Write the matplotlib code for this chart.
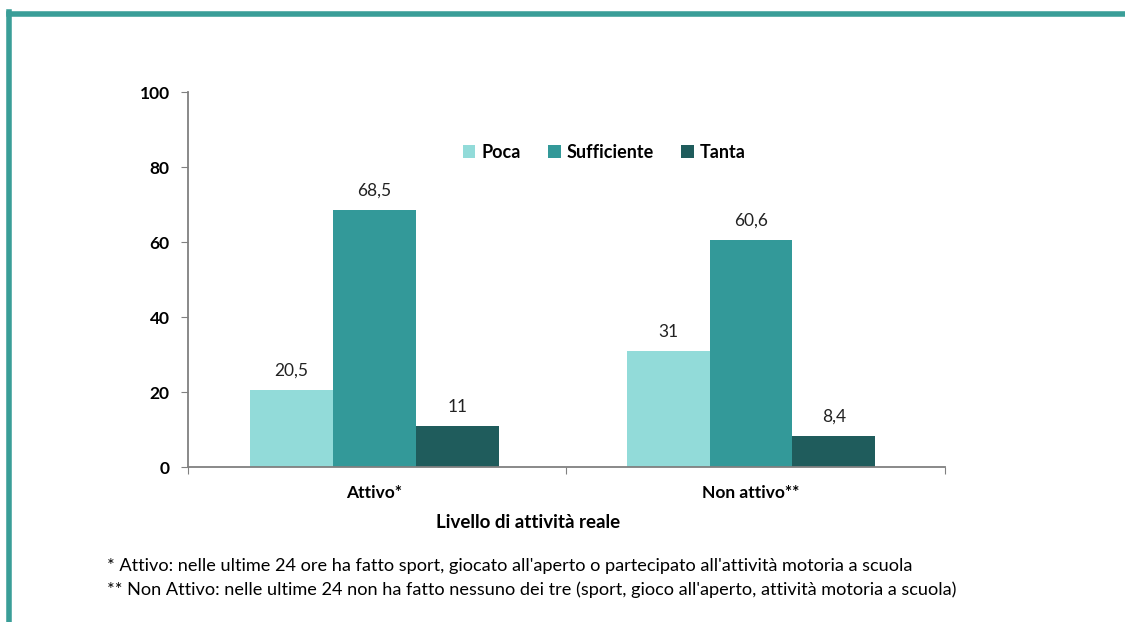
import numpy as np
import matplotlib.pyplot as plt

plt.rcParams['font.family'] = ['Lato', 'DejaVu Sans']

categorie = ['Attivo*', 'Non attivo**']
serie = ['Poca', 'Sufficiente', 'Tanta']
valori = {
    'Poca': [20.5, 31],
    'Sufficiente': [68.5, 60.6],
    'Tanta': [11, 8.4],
}
etichette = {
    'Poca': ['20,5', '31'],
    'Sufficiente': ['68,5', '60,6'],
    'Tanta': ['11', '8,4'],
}
colori = ['#92dbd9', '#339999', '#1f5c5c']
note = [
    "* Attivo: nelle ultime 24 ore ha fatto sport, giocato all'aperto o partecipato all'attività motoria a scuola",
    "** Non Attivo: nelle ultime 24 non ha fatto nessuno dei tre (sport, gioco all'aperto, attività motoria a scuola)",
]

fig = plt.figure(figsize=(11.25, 6.22), dpi=100)
ax = fig.add_axes([0.167, 0.249, 0.673, 0.603])

x = np.arange(len(categorie))
w = 0.22
for i, s in enumerate(serie):
    pos = x + (i - 1) * w
    ax.bar(pos, valori[s], w, color=colori[i], label=s)
    for p, v, t in zip(pos, valori[s], etichette[s]):
        ax.text(p, v + 3, t, ha='center', va='bottom', fontsize=12.5, color='#222222')

ax.set_xlim(-0.495, 1.515)
ax.set_ylim(0, 100)
ax.set_yticks([0, 20, 40, 60, 80, 100])
ax.set_xticks([-0.495, 0.51, 1.515], minor=False)
ax.set_xticklabels([])
ax.set_xticks(x, minor=True)
ax.set_xticklabels(categorie, minor=True)
ax.tick_params(axis='x', which='minor', length=0, pad=13)
ax.tick_params(axis='x', which='major', length=5, color='#808080', direction='out')
ax.tick_params(axis='y', length=5, color='#808080', pad=8)
for lab in ax.get_yticklabels() + ax.get_xticklabels(minor=True):
    lab.set_fontweight('bold')
    lab.set_fontsize(12.5)
for sp in ['top', 'right']:
    ax.spines[sp].set_visible(False)
for sp in ['left', 'bottom']:
    ax.spines[sp].set_color('#808080')
    ax.spines[sp].set_linewidth(1.3)

leg = ax.legend(loc='upper center', bbox_to_anchor=(0.55, 0.905), ncol=3, frameon=False,
                handlelength=0.7, handleheight=0.7, handletextpad=0.35, columnspacing=1.5,
                prop={'weight': 'bold', 'size': 13})

fig.text(528 / 1125, 1 - 522 / 622, 'Livello di attività reale', ha='center', va='center',
         fontsize=13.5, fontweight='bold')

fig.text(107 / 1125, 1 - 566 / 622, note[0], ha='left', va='center', fontsize=13.1)
fig.text(107 / 1125, 1 - 590 / 622, note[1], ha='left', va='center', fontsize=13.1)

# cornice
fig.add_artist(plt.Line2D([9 / 1125, 1], [1 - 14 / 622, 1 - 14 / 622], color='#3a9e98', lw=4))
fig.add_artist(plt.Line2D([9 / 1125, 9 / 1125], [0, 1 - 12 / 622], color='#3a9e98', lw=4))

fig.savefig('out.png', dpi=100)
